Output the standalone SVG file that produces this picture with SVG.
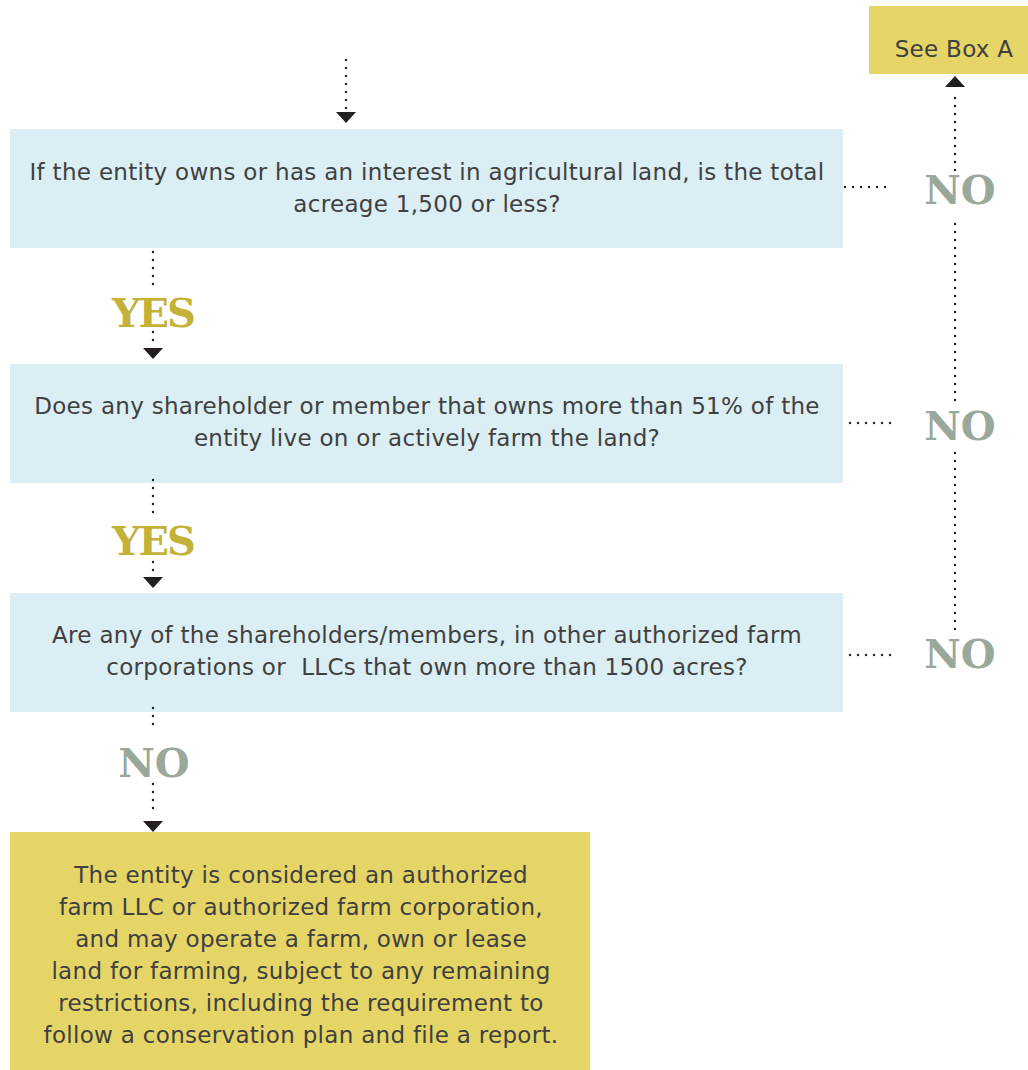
<svg xmlns="http://www.w3.org/2000/svg" width="1028" height="1070" viewBox="0 0 1028 1070">
  <style>
    .q { fill: #daeef3; }
    .y { fill: #e5d567; }
    .t { font-family: "DejaVu Sans", Verdana, sans-serif; font-size: 23px; letter-spacing: 0.3px; fill: #404040; text-anchor: middle; }
    .yes { font-family: "DejaVu Serif", "Liberation Serif", serif; font-weight: bold; font-size: 40px; letter-spacing: -2px; fill: #c4b137; text-anchor: middle; }
    .no { font-family: "DejaVu Serif", "Liberation Serif", serif; font-weight: bold; font-size: 40px; fill: #9aa89c; text-anchor: middle; }
    .dot { fill: none; stroke: #231f20; stroke-width: 2.4; stroke-linecap: round; stroke-dasharray: 0 8; }
  </style>
  <defs>
    <polygon id="down" points="-10,0 10,0 0,11" fill="#231f20"/>
    <polygon id="up" points="-10,0 10,0 0,-11" fill="#231f20"/>
  </defs>
  <rect width="1028" height="1070" fill="#ffffff"/>

  <!-- question 1 -->
  <g id="q1">
    <rect class="q" x="10" y="129" width="833" height="119"/>
    <text class="t" x="427" y="180">If the entity owns or has an interest in agricultural land, is the total</text>
    <text class="t" x="427" y="212">acreage 1,500 or less?</text>
  </g>

  <!-- question 2 -->
  <g id="q2">
    <rect class="q" x="10" y="364" width="833" height="119"/>
    <text class="t" x="427" y="414">Does any shareholder or member that owns more than 51% of the</text>
    <text class="t" x="427" y="446">entity live on or actively farm the land?</text>
  </g>

  <!-- question 3 -->
  <g id="q3">
    <rect class="q" x="10" y="593" width="833" height="119"/>
    <text class="t" x="427" y="643">Are any of the shareholders/members, in other authorized farm</text>
    <text class="t" x="427" y="675" xml:space="preserve">corporations or  LLCs that own more than 1500 acres?</text>
  </g>

  <!-- outcome -->
  <g id="result">
    <rect class="y" x="10" y="832" width="580" height="238"/>
    <text class="t" x="301" y="883">The entity is considered an authorized</text>
    <text class="t" x="301" y="915">farm LLC or authorized farm corporation,</text>
    <text class="t" x="301" y="947">and may operate a farm, own or lease</text>
    <text class="t" x="301" y="979">land for farming, subject to any remaining</text>
    <text class="t" x="301" y="1011">restrictions, including the requirement to</text>
    <text class="t" x="301" y="1043">follow a conservation plan and file a report.</text>
  </g>

  <!-- box A reference -->
  <g id="box-a">
    <rect class="y" x="869" y="6" width="159" height="68"/>
    <text class="t" x="954" y="57">See Box A</text>
  </g>

  <!-- connectors -->
  <g id="connectors">
    <!-- entry arrow -->
    <path class="dot" d="M346 60 V110"/>
    <use href="#down" x="346" y="112"/>

    <!-- q1 to q2 -->
    <path class="dot" d="M153 252 V292"/>
    <text class="yes" x="153" y="327">YES</text>
    <path class="dot" d="M153 332 V346"/>
    <use href="#down" x="153" y="348"/>

    <!-- q2 to q3 -->
    <path class="dot" d="M153 480 V520"/>
    <text class="yes" x="153" y="555">YES</text>
    <path class="dot" d="M153 562 V576"/>
    <use href="#down" x="153" y="577"/>

    <!-- q3 to outcome -->
    <path class="dot" d="M153 708 V732"/>
    <text class="no" x="154" y="777">NO</text>
    <path class="dot" d="M153 784 V816"/>
    <use href="#down" x="153" y="821"/>

    <!-- NO branches to box A -->
    <path class="dot" d="M845 187 H889"/>
    <text class="no" x="960" y="204">NO</text>
    <path class="dot" d="M850 423 H894"/>
    <text class="no" x="960" y="440">NO</text>
    <path class="dot" d="M850 655 H894"/>
    <text class="no" x="960" y="668">NO</text>

    <path class="dot" d="M955 629 V445"/>
    <path class="dot" d="M955 400 V216"/>
    <path class="dot" d="M955 170 V90"/>
    <use href="#up" x="955" y="87"/>
  </g>
</svg>
